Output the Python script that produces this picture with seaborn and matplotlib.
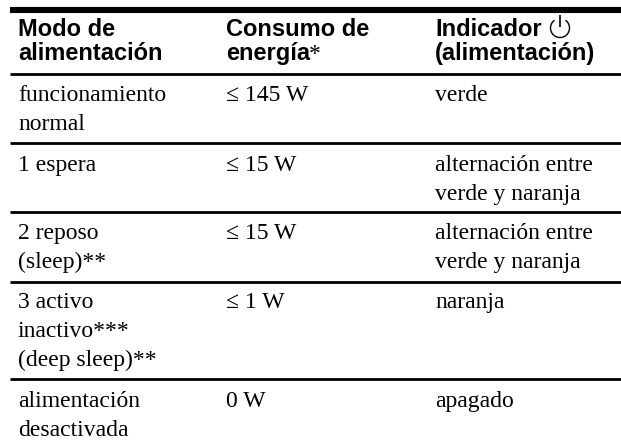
import matplotlib
matplotlib.use('Agg')
import matplotlib.pyplot as plt
from matplotlib.patches import Arc
import seaborn as sns

HEADERS = [['Modo de', 'alimentación'], ['Consumo de', 'energía'], ['Indicador', '(alimentación)']]
MODES = [['funcionamiento', 'normal'], ['1 espera'], ['2 reposo', '(sleep)**'],
         ['3 activo', 'inactivo***', '(deep sleep)**'], ['alimentación', 'desactivada']]
POWER = ['≤ 145 W', '≤ 15 W', '≤ 15 W', '≤ 1 W', '0 W']
LEDS = [['verde'], ['alternación entre', 'verde y naranja'], ['alternación entre', 'verde y naranja'],
        ['naranja'], ['apagado']]

COL_X = [18, 226, 435]
ROW_Y = [101, 171, 239, 308, 407]  # baseline of the first line in each row
RULES = [74, 143, 212, 282, 379]
LINE = 29

sns.set_theme(style='white')
plt.rcParams['font.family'] = ['Liberation Serif', 'DejaVu Serif']

fig = plt.figure(figsize=(6.21, 4.46), dpi=100)
ax = fig.add_axes([0, 0, 1, 1])
ax.set_xlim(0, 621)
ax.set_ylim(446, 0)
ax.axis('off')

# rules
ax.hlines(10, 10, 621, color='black', lw=4.4)
ax.hlines(RULES, 10, 621, color='black', lw=2)

# header
for x, lines in zip(COL_X, HEADERS):
    for i, s in enumerate(lines):
        ax.text(x, 36 + i * 24, s, family=['Liberation Sans'], fontweight='bold',
                fontsize=17, va='baseline', ha='left', color='black')
ax.text(309, 60, '*', fontsize=17, va='baseline', ha='left', color='black')

# power symbol
ax.add_patch(Arc((560, 28), 19, 19, theta1=-55, theta2=235, color='black', lw=1))
ax.vlines(560, 15, 27, color='black', lw=1.2)

# body
for y, mode, power, led in zip(ROW_Y, MODES, POWER, LEDS):
    for x, lines in zip(COL_X, [mode, [power], led]):
        for i, s in enumerate(lines):
            ax.text(x, y + i * LINE, s, fontsize=17, va='baseline', ha='left', color='black')

fig.savefig('out.png', dpi=100)
